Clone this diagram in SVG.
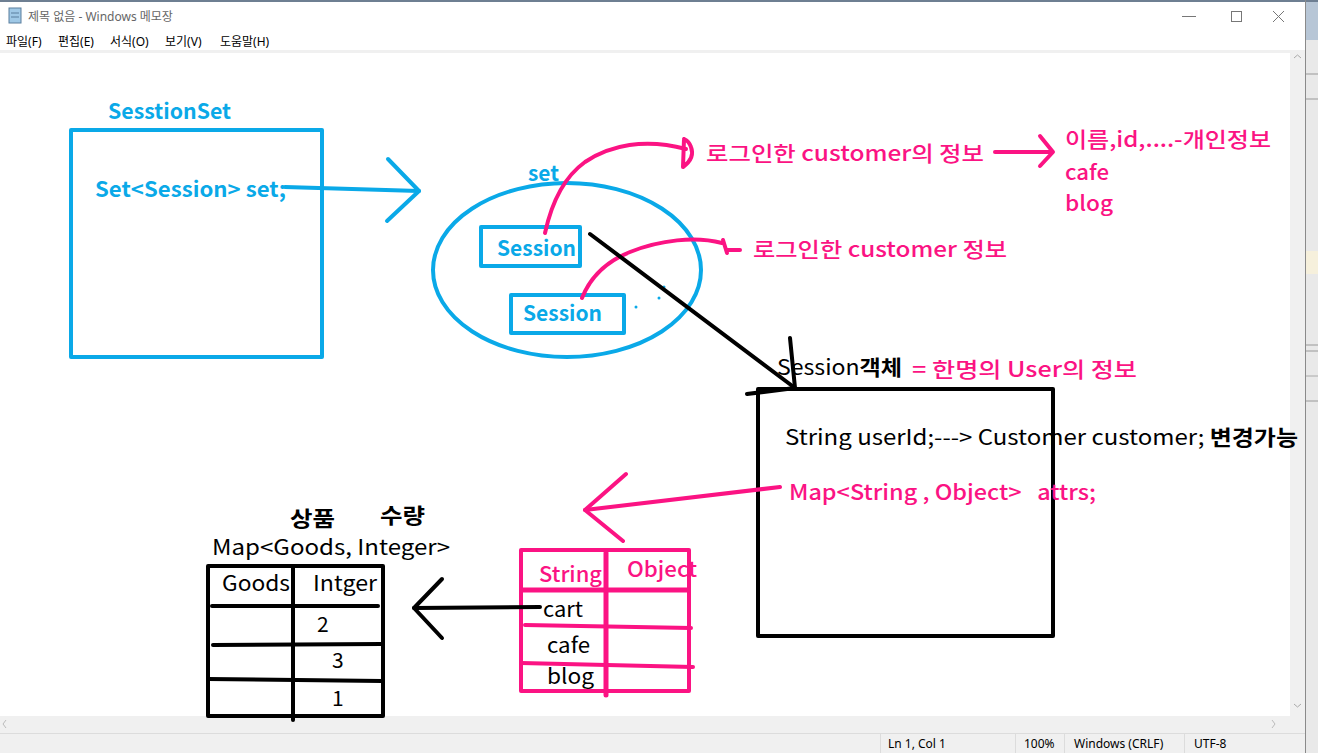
<svg xmlns="http://www.w3.org/2000/svg" width="1318" height="753" viewBox="0 0 1318 753">
<style>
.ui{font-family:"Noto Sans","Noto Sans CJK KR",sans-serif;font-size:12px;fill:#000}
.t{font-family:"Noto Sans CJK KR","Noto Sans",sans-serif;font-size:21px;white-space:pre}
.blue{fill:#0aa9e8;font-weight:600}
.pink{fill:#fb1383;font-weight:500}
.blk{fill:#000}
.b{font-weight:700}
.sb{stroke:#0aa9e8;stroke-width:4;fill:none;stroke-linecap:round;stroke-linejoin:round}
.sp{stroke:#fb1383;stroke-width:4;fill:none;stroke-linecap:round;stroke-linejoin:round}
.sk{stroke:#000;stroke-width:4;fill:none;stroke-linecap:round;stroke-linejoin:round}
</style>
<!-- window chrome -->
<g id="window">
<rect x="0" y="0" width="1318" height="753" fill="#ffffff"/>
<rect x="1306" y="0" width="12" height="753" fill="#e9e9e9"/>
<rect x="1306" y="0" width="12" height="40" fill="#b7c6d6"/>
<line x1="1306" y1="74" x2="1318" y2="74" stroke="#999"/>
<line x1="1306" y1="99" x2="1318" y2="99" stroke="#999"/>
<rect x="1306" y="251" width="12" height="23" fill="#f6f0dc"/>
<line x1="1306" y1="345" x2="1318" y2="345" stroke="#999"/>
<line x1="1306" y1="351" x2="1318" y2="351" stroke="#999"/>
<line x1="1306" y1="376" x2="1318" y2="376" stroke="#aaa"/>
<line x1="1306" y1="401" x2="1318" y2="401" stroke="#999"/>
<rect x="0" y="0" width="1318" height="2" fill="#6e7f92"/>
<line x1="1305.5" y1="0" x2="1305.5" y2="753" stroke="#8a8a8a"/>
<rect x="9" y="8" width="12" height="15" fill="#9fc8e6" stroke="#5a7f9e" stroke-width="1"/>
<line x1="11" y1="13" x2="19" y2="13" stroke="#5a7f9e"/>
<line x1="11" y1="17" x2="19" y2="17" stroke="#5a7f9e"/>
<text class="ui" x="28" y="21" style="fill:#666">제목 없음 - Windows 메모장</text>
<line x1="1182" y1="16.5" x2="1196" y2="16.5" stroke="#777"/>
<rect x="1231.5" y="11.5" width="10" height="10" fill="none" stroke="#777"/>
<path d="M1273 11 L1284 22 M1284 11 L1273 22" stroke="#777" fill="none"/>
<text class="ui" x="6" y="46">파일(F)</text>
<text class="ui" x="58" y="46">편집(E)</text>
<text class="ui" x="110" y="46">서식(O)</text>
<text class="ui" x="165" y="46">보기(V)</text>
<text class="ui" x="220" y="46">도움말(H)</text>
<rect x="0" y="50" width="1305" height="3" fill="#f0f0f0"/>
<rect x="1290" y="53" width="15" height="663" fill="#f0f0f0"/>
<path d="M1294 58 L1297.5 55 L1301 58" stroke="#aaa" fill="none"/>
<path d="M1294 704 L1297.5 707 L1301 704" stroke="#aaa" fill="none"/>
<rect x="0" y="716" width="1305" height="17" fill="#f0f0f0"/>
<path d="M6 720 L3 724 L6 728" stroke="#bbb" fill="none"/>
<path d="M1272 720 L1275 724 L1272 728" stroke="#bbb" fill="none"/>
<rect x="0" y="733" width="1305" height="20" fill="#f0f0f0"/>
<line x1="0" y1="733.5" x2="1305" y2="733.5" stroke="#dcdcdc"/>
<line x1="880.5" y1="734" x2="880.5" y2="753" stroke="#dcdcdc"/>
<line x1="1015.5" y1="734" x2="1015.5" y2="753" stroke="#dcdcdc"/>
<line x1="1064.5" y1="734" x2="1064.5" y2="753" stroke="#dcdcdc"/>
<line x1="1184.5" y1="734" x2="1184.5" y2="753" stroke="#dcdcdc"/>
<text class="ui" x="888" y="748">Ln 1, Col 1</text>
<text class="ui" x="1024" y="748">100%</text>
<text class="ui" x="1074" y="748">Windows (CRLF)</text>
<text class="ui" x="1194" y="748">UTF-8</text>
</g>

<g id="sessionset">
<text class="t blue" x="108" y="119" font-size="22" textLength="123" lengthAdjust="spacingAndGlyphs">SesstionSet</text>
<rect x="71" y="130" width="251" height="227" class="sb"/>
<text class="t blue" x="95" y="197" textLength="191" lengthAdjust="spacingAndGlyphs">Set&lt;Session&gt; set;</text>
</g>

<g id="set">
<text class="t blue" x="528" y="181" textLength="31" lengthAdjust="spacingAndGlyphs">set</text>
<ellipse cx="567" cy="270" rx="134" ry="87" class="sb"/>
<rect x="481" y="227" width="99" height="39" class="sb"/>
<text class="t blue" x="497" y="256" textLength="79" lengthAdjust="spacingAndGlyphs">Session</text>
<rect x="511" y="295" width="113" height="38" class="sb"/>
<text class="t blue" x="523" y="321" textLength="79" lengthAdjust="spacingAndGlyphs">Session</text>
<circle cx="636" cy="307" r="1.5" fill="#0aa9e8"/>
<circle cx="659" cy="298" r="1.5" fill="#0aa9e8"/>
<circle cx="664" cy="287" r="1.5" fill="#0aa9e8"/>
</g>

<g id="login-info">
<text class="t pink" x="706" y="161" textLength="278" lengthAdjust="spacingAndGlyphs">로그인한 customer의 정보</text>
<text class="t pink" x="1065" y="147" font-size="22" textLength="206" lengthAdjust="spacingAndGlyphs">이름,id,....-개인정보</text>
<text class="t pink" x="1065" y="180" textLength="44" lengthAdjust="spacingAndGlyphs">cafe</text>
<text class="t pink" x="1065" y="211" textLength="48" lengthAdjust="spacingAndGlyphs">blog</text>
<text class="t pink" x="753" y="257" textLength="254" lengthAdjust="spacingAndGlyphs">로그인한 customer 정보</text>
</g>

<g id="session-object">
<text class="t blk" x="777" y="375" textLength="125" lengthAdjust="spacingAndGlyphs">Session<tspan class="b">객체</tspan></text>
<text class="t pink" x="912" y="377" font-size="22" textLength="225" lengthAdjust="spacingAndGlyphs">= 한명의 User의 정보</text>
<rect x="758" y="389" width="295" height="247" class="sk"/>
<text class="t blk" x="785" y="445" textLength="513" lengthAdjust="spacingAndGlyphs">String userId;---&gt; Customer customer; <tspan class="b">변경가능</tspan></text>
<text class="t pink" x="789" y="500" textLength="307" lengthAdjust="spacingAndGlyphs">Map&lt;String , Object&gt;   attrs;</text>
</g>

<g id="attrs-table">
<rect x="521" y="550" width="168" height="141" class="sp"/>
<line x1="606" y1="553" x2="606" y2="695" stroke="#fb1383" stroke-width="5" stroke-linecap="round"/>
<line x1="521" y1="590" x2="690" y2="590" stroke="#fb1383" stroke-width="5"/>
<line x1="525" y1="625" x2="691" y2="628" class="sp"/>
<line x1="521" y1="663" x2="693" y2="667" class="sp"/>
<text class="t pink" x="539" y="582" textLength="63" lengthAdjust="spacingAndGlyphs">String</text>
<text class="t pink" x="627" y="577" textLength="70" lengthAdjust="spacingAndGlyphs">Object</text>
<text class="t blk" x="543" y="617" textLength="40" lengthAdjust="spacingAndGlyphs">cart</text>
<text class="t blk" x="547" y="653" textLength="43" lengthAdjust="spacingAndGlyphs">cafe</text>
<text class="t blk" x="547" y="684" textLength="47" lengthAdjust="spacingAndGlyphs">blog</text>
</g>

<g id="goods-map">
<text class="t blk b" x="290" y="526" font-size="19" textLength="45" lengthAdjust="spacingAndGlyphs">상품</text>
<text class="t blk b" x="380" y="523" font-size="19" textLength="45" lengthAdjust="spacingAndGlyphs">수량</text>
<text class="t blk" x="212" y="555" textLength="238" lengthAdjust="spacingAndGlyphs">Map&lt;Goods, Integer&gt;</text>
<rect x="208" y="566" width="175" height="150" class="sk"/>
<line x1="293" y1="566" x2="293" y2="720" class="sk"/>
<line x1="212" y1="606" x2="378" y2="606" class="sk"/>
<line x1="213" y1="645" x2="382" y2="644" class="sk"/>
<line x1="208" y1="679" x2="382" y2="681" class="sk"/>
<text class="t blk" x="222" y="591" textLength="68" lengthAdjust="spacingAndGlyphs">Goods</text>
<text class="t blk" x="313" y="591" textLength="64" lengthAdjust="spacingAndGlyphs">Intger</text>
<text class="t blk" x="317" y="632">2</text>
<text class="t blk" x="332" y="668">3</text>
<text class="t blk" x="332" y="706">1</text>
</g>

<g id="connectors">
<path d="M285 187 L419 191" class="sb" stroke-width="3.5"/>
<path d="M388 159 L419 191 L387 221" class="sb" stroke-width="3.5"/>
<path d="M545 233 C550 210 560 180 585 162 C610 145 645 138 686 149" class="sp"/>
<path d="M684 139 L683 167 C690 162 694 155 691 147 C689 141 686 140 684 139" class="sp" stroke-width="3.5"/>
<path d="M995 152 L1052 152" class="sp"/>
<path d="M1040 136 L1053 152 L1040 166" class="sp"/>
<path d="M582 298 C590 278 605 262 630 252 C660 240 695 236 722 243" class="sp"/>
<path d="M723 240 L727 253 M727 250 L740 250" class="sp" stroke-width="3.5"/>
<path d="M590 234 L795 388" class="sk"/>
<path d="M790 338 L795 388 L747 394" class="sk"/>
<path d="M780 487 L585 510" class="sp"/>
<path d="M626 474 L585 510 L623 541" class="sp"/>
<path d="M540 607 L414 608" class="sk"/>
<path d="M442 579 L414 608 L442 638" class="sk"/>
</g>
</svg>
